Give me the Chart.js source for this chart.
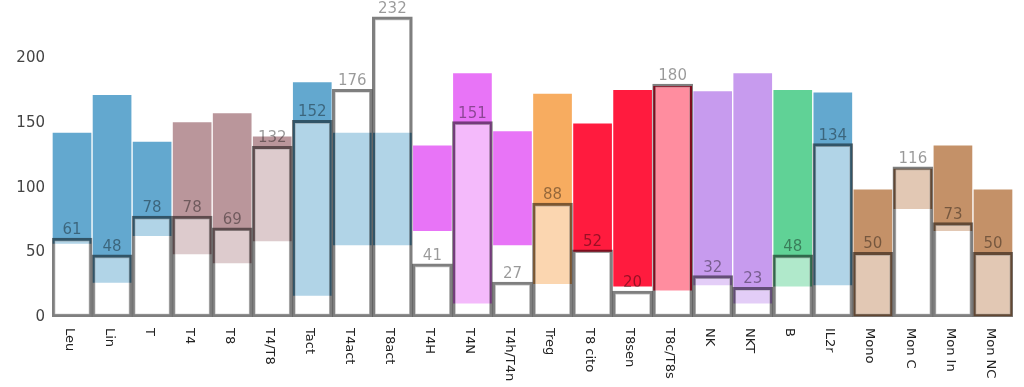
<!DOCTYPE html>
<html>
<head>
<meta charset="utf-8">
<script src="https://cdn.jsdelivr.net/npm/chart.js@4"></script>
<style>
  html, body { margin: 0; padding: 0; background: #fff; }
  #wrap { width: 1024px; height: 387px; }
</style>
</head>
<body>
<div id="wrap"><canvas id="cellsChart"></canvas></div>
<script>
// categories and readings
const categories = ["Leu", "Lin", "T", "T4", "T8", "T4/T8", "Tact", "T4act", "T8act", "T4H", "T4N", "T4h/T4n",
  "Treg", "T8 cito", "T8sen", "T8c/T8s", "NK", "NKT", "B", "IL2r", "Mono", "Mon C", "Mon In", "Mon NC"];
const groups = ["blue", "blue", "blue", "mauve", "mauve", "mauve", "blue", "blue", "blue", "magenta", "magenta", "magenta",
  "orange", "red", "red", "red", "purple", "purple", "green", "blue", "brown", "brown", "brown", "brown"];
const rangeLow = [56, 26, 62, 48, 41, 58, 16, 55, 55, 66, 10, 55, 25, 50, 23, 20, 24, 10, 23, 24, 0, 83, 66, 0];
const rangeHigh = [143, 172, 136, 151, 158, 140, 182, 143, 143, 133, 189, 144, 173, 150, 176, 179, 175, 189, 176, 174, 99, 115, 133, 99];
const values = [61, 48, 78, 78, 69, 132, 152, 176, 232, 41, 151, 27, 88, 52, 20, 180, 32, 23, 48, 134, 50, 116, 73, 50];
const yTicks = [0, 50, 100, 150, 200];

const groupColors = {
  blue: "#63a8cf",
  mauve: "#ba969b",
  magenta: "#e874f7",
  orange: "#f7ac60",
  red: "#ff1b3e",
  purple: "#c79bee",
  green: "#60d296",
  brown: "#c49168",
};

document.addEventListener("DOMContentLoaded", function () {
  const labelPlugin = {
    id: "barLabels",
    afterDatasetsDraw(chart) {
      const ctx = chart.ctx;
      const x = chart.scales.x;
      const y = chart.scales.y;
      ctx.save();
      // value labels above the outlined bars
      ctx.font = "15px 'DejaVu Sans'";
      ctx.fillStyle = "rgba(0,0,0,0.4)";
      ctx.textAlign = "center";
      ctx.textBaseline = "alphabetic";
      values.forEach(function (v, i) {
        ctx.fillText(String(v), x.getPixelForValue(i), y.getPixelForValue(v) - 4);
      });
      // category labels, turned clockwise
      ctx.font = "13px 'DejaVu Sans'";
      ctx.fillStyle = "#222";
      ctx.textAlign = "left";
      ctx.textBaseline = "middle";
      categories.forEach(function (c, i) {
        ctx.save();
        ctx.translate(x.getPixelForValue(i) - 3, chart.chartArea.bottom + 11);
        ctx.rotate(Math.PI / 2);
        ctx.fillText(c, 0, 0);
        ctx.restore();
      });
      ctx.restore();
    },
  };

  const ctx = document.getElementById("cellsChart").getContext("2d");
  new Chart(ctx, {
    type: "bar",
    data: {
      labels: categories,
      datasets: [
        {
          label: "range",
          data: rangeLow.map((lo, i) => [lo, rangeHigh[i]]),
          backgroundColor: groups.map((g) => groupColors[g]),
          borderColor: "rgba(255,255,255,0.45)",
          borderWidth: 1,
          borderSkipped: false,
          barPercentage: 1,
          categoryPercentage: 1,
          grouped: false,
          order: 2,
        },
        {
          label: "value",
          data: values,
          backgroundColor: "rgba(255,255,255,0.5)",
          borderColor: "rgba(0,0,0,0.5)",
          borderWidth: 3,
          borderSkipped: false,
          barPercentage: 1,
          categoryPercentage: 1,
          grouped: false,
          order: 1,
        },
      ],
    },
    options: {
      responsive: true,
      maintainAspectRatio: false,
      animation: false,
      layout: { padding: { top: 0, right: 11, bottom: 70, left: 0 } },
      plugins: { legend: { display: false }, tooltip: { enabled: false } },
      scales: {
        x: { display: false },
        y: {
          min: 0,
          max: 245,
          grid: { display: false, drawTicks: false },
          border: { display: false },
          afterFit: function (scale) {
            scale.width = 52;
            scale.paddingTop = 0;
            scale.paddingBottom = 0;
          },
          afterBuildTicks: function (scale) {
            scale.ticks = yTicks.map((v) => ({ value: v }));
          },
          ticks: {
            padding: 7,
            color: "#444",
            font: { family: "'DejaVu Sans'", size: 15 },
          },
        },
      },
    },
    plugins: [labelPlugin],
  });
});
</script>
</body>
</html>
